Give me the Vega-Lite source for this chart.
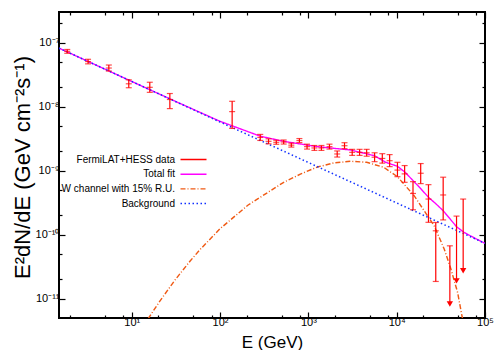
{
  "$schema": "https://vega.github.io/schema/vega-lite/v6.json",
  "width": 426,
  "height": 306,
  "autosize": {"type": "none"},
  "padding": {"left": 59, "top": 12, "right": 15, "bottom": 32},
  "background": "white",
  "datasets": {
    "curves": [
      {"series": "W channel with 15% R.U.", "E": 15.3, "F": 4.86e-12},
      {"series": "W channel with 15% R.U.", "E": 20.8, "F": 9.18e-12},
      {"series": "W channel with 15% R.U.", "E": 30.8, "F": 1.95e-11},
      {"series": "W channel with 15% R.U.", "E": 45.6, "F": 3.85e-11},
      {"series": "W channel with 15% R.U.", "E": 59.3, "F": 5.85e-11},
      {"series": "W channel with 15% R.U.", "E": 100, "F": 1.24e-10},
      {"series": "W channel with 15% R.U.", "E": 208, "F": 2.91e-10},
      {"series": "W channel with 15% R.U.", "E": 520, "F": 6.52e-10},
      {"series": "W channel with 15% R.U.", "E": 811, "F": 8.81e-10},
      {"series": "W channel with 15% R.U.", "E": 1265, "F": 1.14e-9},
      {"series": "W channel with 15% R.U.", "E": 1950, "F": 1.32e-9},
      {"series": "W channel with 15% R.U.", "E": 3000, "F": 1.40e-9},
      {"series": "W channel with 15% R.U.", "E": 4570, "F": 1.35e-9},
      {"series": "W channel with 15% R.U.", "E": 7110, "F": 1.13e-9},
      {"series": "W channel with 15% R.U.", "E": 10190, "F": 8.05e-10},
      {"series": "W channel with 15% R.U.", "E": 15740, "F": 4.07e-10},
      {"series": "W channel with 15% R.U.", "E": 26550, "F": 1.38e-10},
      {"series": "W channel with 15% R.U.", "E": 34510, "F": 5.98e-11},
      {"series": "W channel with 15% R.U.", "E": 41110, "F": 2.91e-11},
      {"series": "W channel with 15% R.U.", "E": 48980, "F": 1.25e-11},
      {"series": "W channel with 15% R.U.", "E": 54330, "F": 5.75e-12},
      {"series": "W channel with 15% R.U.", "E": 56230, "F": 4.57e-12},
      {"series": "Total fit", "E": 1.5, "F": 8.18e-8},
      {"series": "Total fit", "E": 10, "F": 2.47e-8},
      {"series": "Total fit", "E": 30, "F": 1.236e-8},
      {"series": "Total fit", "E": 100, "F": 5.89e-9},
      {"series": "Total fit", "E": 285, "F": 3.45e-9},
      {"series": "Total fit", "E": 525, "F": 2.87e-9},
      {"series": "Total fit", "E": 1256, "F": 2.37e-9},
      {"series": "Total fit", "E": 3000, "F": 2.10e-9},
      {"series": "Total fit", "E": 5623, "F": 1.71e-9},
      {"series": "Total fit", "E": 7500, "F": 1.35e-9},
      {"series": "Total fit", "E": 10190, "F": 1.17e-9},
      {"series": "Total fit", "E": 12600, "F": 9.3e-10},
      {"series": "Total fit", "E": 15310, "F": 6.98e-10},
      {"series": "Total fit", "E": 18700, "F": 5.25e-10},
      {"series": "Total fit", "E": 22900, "F": 3.83e-10},
      {"series": "Total fit", "E": 27700, "F": 3.05e-10},
      {"series": "Total fit", "E": 33570, "F": 2.37e-10},
      {"series": "Total fit", "E": 40000, "F": 1.78e-10},
      {"series": "Total fit", "E": 47640, "F": 1.33e-10},
      {"series": "Total fit", "E": 57680, "F": 1.09e-10},
      {"series": "Total fit", "E": 75000, "F": 8.97e-11},
      {"series": "Total fit", "E": 100000, "F": 7.31e-11},
      {"series": "Background", "E": 1.5, "F": 8.18e-8},
      {"series": "Background", "E": 10, "F": 2.47e-8},
      {"series": "Background", "E": 100, "F": 5.75e-9},
      {"series": "Background", "E": 1000, "F": 1.34e-9},
      {"series": "Background", "E": 10000, "F": 3.13e-10},
      {"series": "Background", "E": 100000, "F": 7.31e-11}
    ],
    "pts": [
      {"E": 1.86, "F": 7.3e-8, "lo": 6.8e-8, "hi": 7.8e-8},
      {"E": 3.2, "F": 5.05e-8, "lo": 4.65e-8, "hi": 5.48e-8},
      {"E": 5.5, "F": 4.0e-8, "lo": 3.59e-8, "hi": 4.46e-8},
      {"E": 9.25, "F": 2.27e-8, "lo": 1.97e-8, "hi": 2.62e-8},
      {"E": 16, "F": 2.0e-8, "lo": 1.67e-8, "hi": 2.4e-8},
      {"E": 27, "F": 1.29e-8, "lo": 9.3e-9, "hi": 1.6e-8},
      {"E": 137, "F": 8.35e-9, "lo": 4.57e-9, "hi": 1.21e-8},
      {"E": 285, "F": 3.3e-9, "lo": 2.96e-9, "hi": 3.68e-9},
      {"E": 354, "F": 2.87e-9, "lo": 2.62e-9, "hi": 3.14e-9},
      {"E": 433, "F": 2.77e-9, "lo": 2.58e-9, "hi": 2.98e-9},
      {"E": 525, "F": 2.8e-9, "lo": 2.6e-9, "hi": 3.01e-9},
      {"E": 641, "F": 2.5e-9, "lo": 2.33e-9, "hi": 2.69e-9},
      {"E": 791, "F": 2.95e-9, "lo": 2.74e-9, "hi": 3.17e-9},
      {"E": 966, "F": 2.37e-9, "lo": 2.17e-9, "hi": 2.59e-9},
      {"E": 1170, "F": 2.26e-9, "lo": 2.07e-9, "hi": 2.47e-9},
      {"E": 1405, "F": 2.26e-9, "lo": 2.07e-9, "hi": 2.47e-9},
      {"E": 1733, "F": 2.37e-9, "lo": 2.17e-9, "hi": 2.59e-9},
      {"E": 2120, "F": 1.82e-9, "lo": 1.63e-9, "hi": 2.03e-9},
      {"E": 2565, "F": 2.45e-9, "lo": 2.2e-9, "hi": 2.73e-9},
      {"E": 3135, "F": 1.93e-9, "lo": 1.73e-9, "hi": 2.15e-9},
      {"E": 3800, "F": 1.93e-9, "lo": 1.73e-9, "hi": 2.15e-9},
      {"E": 4570, "F": 1.9e-9, "lo": 1.68e-9, "hi": 2.15e-9},
      {"E": 5620, "F": 1.62e-9, "lo": 1.38e-9, "hi": 1.9e-9},
      {"E": 6870, "F": 1.55e-9, "lo": 1.31e-9, "hi": 1.84e-9},
      {"E": 8320, "F": 1.43e-9, "lo": 1.155e-9, "hi": 1.78e-9},
      {"E": 10200, "F": 1.02e-9, "lo": 8.05e-10, "hi": 1.35e-9},
      {"E": 12300, "F": 8.9e-10, "lo": 6.57e-10, "hi": 1.2e-9},
      {"E": 15300, "F": 4.4e-10, "lo": 2.45e-10, "hi": 6.73e-10},
      {"E": 18700, "F": 9.1e-10, "lo": 6.27e-10, "hi": 1.29e-9},
      {"E": 22900, "F": 3.6e-10, "lo": 1.56e-10, "hi": 6.04e-10},
      {"E": 27700, "F": 1.15e-10, "lo": 1.86e-11, "hi": 1.55e-10},
      {"E": 33600, "F": 4.17e-10, "lo": 1.7e-10, "hi": 7.9e-10}
    ],
    "ul": [
      {"E": 40000, "top": 6.7e-11, "tip": 8.3e-12},
      {"E": 47600, "top": 1.95e-10, "tip": 1.9e-11},
      {"E": 56600, "top": 3.6e-10, "tip": 2.74e-11}
    ]
  },
  "layer": [
    {
      "data": {"name": "curves"},
      "mark": {"type": "line", "clip": true},
      "encoding": {
        "x": {
          "field": "E", "type": "quantitative",
          "scale": {"type": "log", "domain": [1.5, 100000], "nice": false},
          "axis": {
            "orient": "bottom",
            "values": [2, 5, 8, 10, 20, 50, 80, 100, 200, 500, 800, 1000, 2000, 5000, 8000, 10000, 20000, 50000, 80000, 100000],
            "labelExpr": "abs(log(datum.value)/LN10 - round(log(datum.value)/LN10)) > 0.01 ? '' : '10' + ['⁰','¹','²','³','⁴','⁵','⁶'][round(log(datum.value)/LN10)]",
            "tickSize": {"condition": {"test": "abs(log(datum.value)/LN10 - round(log(datum.value)/LN10)) < 0.01", "value": -6}, "value": -3},
            "labelPadding": 4,
            "labelFlush": false,
            "labelOverlap": false,
            "title": "E (GeV)",
            "titleFontSize": 17,
            "titleX": 213,
            "titleY": 29,
            "titleBaseline": "alphabetic"
          }
        },
        "y": {
          "field": "F", "type": "quantitative",
          "scale": {"type": "log", "domain": [5e-12, 3e-7], "nice": false},
          "axis": {
            "orient": "left",
            "values": [1e-11, 2e-11, 5e-11, 1e-10, 2e-10, 5e-10, 1e-9, 2e-9, 5e-9, 1e-8, 2e-8, 5e-8, 1e-7, 2e-7],
            "labelExpr": "abs(log(datum.value)/LN10 - round(log(datum.value)/LN10)) > 0.01 ? '' : '10⁻' + ['⁰','¹','²','³','⁴','⁵','⁶','⁷','⁸','⁹','¹⁰','¹¹','¹²'][round(-log(datum.value)/LN10)]",
            "tickSize": {"condition": {"test": "abs(log(datum.value)/LN10 - round(log(datum.value)/LN10)) < 0.01", "value": -6}, "value": -3},
            "labelPadding": 6,
            "labelOverlap": false,
            "labelFlush": false,
            "title": "E²dN/dE (GeV cm⁻²s⁻¹)",
            "titleFontSize": 22,
            "titleX": -30,
            "titleY": 155,
            "titleAngle": -90,
            "titleBaseline": "alphabetic"
          }
        },
        "color": {
          "field": "series", "type": "nominal",
          "scale": {
            "domain": ["FermiLAT+HESS data", "Total fit", "W channel with 15% R.U.", "Background"],
            "range": ["#ff0000", "#ff00ff", "#f05a14", "#1030ff"]
          },
          "legend": {
            "orient": "none",
            "legendX": 122,
            "legendY": 140,
            "title": null,
            "symbolType": "M-2,0H2",
            "symbolSize": 169,
            "symbolOffset": 5,
            "labelAlign": "right",
            "labelOffset": -26,
            "rowPadding": 1.7,
            "padding": 0,
            "labelFontSize": 10,
            "labelFont": "Liberation Sans",
            "labelColor": "black",
            "labelLimit": 300
          }
        },
        "strokeDash": {
          "field": "series", "type": "nominal",
          "scale": {
            "domain": ["FermiLAT+HESS data", "Total fit", "W channel with 15% R.U.", "Background"],
            "range": [[1, 0], [1, 0], [5, 2, 1, 2], [1.5, 2.5]]
          }
        },
        "strokeWidth": {
          "field": "series", "type": "nominal",
          "scale": {
            "domain": ["FermiLAT+HESS data", "Total fit", "W channel with 15% R.U.", "Background"],
            "range": [1.3, 1.5, 1.2, 1.6]
          }
        }
      }
    },
    {
      "data": {"name": "pts"},
      "mark": {"type": "rule", "color": "#ff0000", "strokeWidth": 1.2},
      "encoding": {
        "x": {
          "field": "E", "type": "quantitative",
          "axis": {
            "orient": "top",
            "values": [2, 5, 8, 10, 20, 50, 80, 100, 200, 500, 800, 1000, 2000, 5000, 8000, 10000, 20000, 50000, 80000, 100000],
            "labels": false,
            "title": null,
            "tickSize": {"condition": {"test": "abs(log(datum.value)/LN10 - round(log(datum.value)/LN10)) < 0.01", "value": -6}, "value": -3}
          }
        },
        "y": {
          "field": "lo", "type": "quantitative",
          "axis": {
            "orient": "right",
            "values": [1e-11, 2e-11, 5e-11, 1e-10, 2e-10, 5e-10, 1e-9, 2e-9, 5e-9, 1e-8, 2e-8, 5e-8, 1e-7, 2e-7],
            "labels": false,
            "title": null,
            "tickSize": {"condition": {"test": "abs(log(datum.value)/LN10 - round(log(datum.value)/LN10)) < 0.01", "value": -6}, "value": -3}
          }
        },
        "y2": {"field": "hi"}
      }
    },
    {
      "data": {"name": "pts"},
      "transform": [{"fold": ["lo", "F", "hi"], "as": ["k", "v"]}],
      "mark": {"type": "tick", "orient": "horizontal", "color": "#ff0000", "size": 6, "thickness": 1.2},
      "encoding": {
        "x": {"field": "E", "type": "quantitative", "axis": null},
        "y": {"field": "v", "type": "quantitative", "axis": null}
      }
    },
    {
      "data": {"name": "ul"},
      "mark": {"type": "rule", "color": "#ff0000", "strokeWidth": 1.2},
      "encoding": {
        "x": {"field": "E", "type": "quantitative", "axis": null},
        "y": {"field": "tip", "type": "quantitative", "axis": null},
        "y2": {"field": "top"}
      }
    },
    {
      "data": {"name": "ul"},
      "mark": {"type": "tick", "orient": "horizontal", "color": "#ff0000", "size": 6, "thickness": 1.2},
      "encoding": {
        "x": {"field": "E", "type": "quantitative", "axis": null},
        "y": {"field": "top", "type": "quantitative", "axis": null}
      }
    },
    {
      "data": {"name": "ul"},
      "mark": {"type": "point", "shape": "triangle-down", "filled": true, "color": "#ff0000", "size": 40, "opacity": 1},
      "encoding": {
        "x": {"field": "E", "type": "quantitative", "axis": null},
        "y": {"field": "tip", "type": "quantitative", "axis": null}
      }
    }
  ],
  "resolve": {"axis": {"x": "independent", "y": "independent"}},
  "config": {
    "view": {"stroke": "black", "strokeWidth": 2},
    "font": "Liberation Sans",
    "axis": {
      "grid": false,
      "domain": false,
      "labelFont": "Liberation Sans",
      "labelFontSize": 11,
      "labelColor": "black",
      "tickColor": "black",
      "tickWidth": 1.2,
      "titleColor": "black",
      "titleFont": "Liberation Sans",
      "titleFontWeight": "normal"
    }
  }
}
